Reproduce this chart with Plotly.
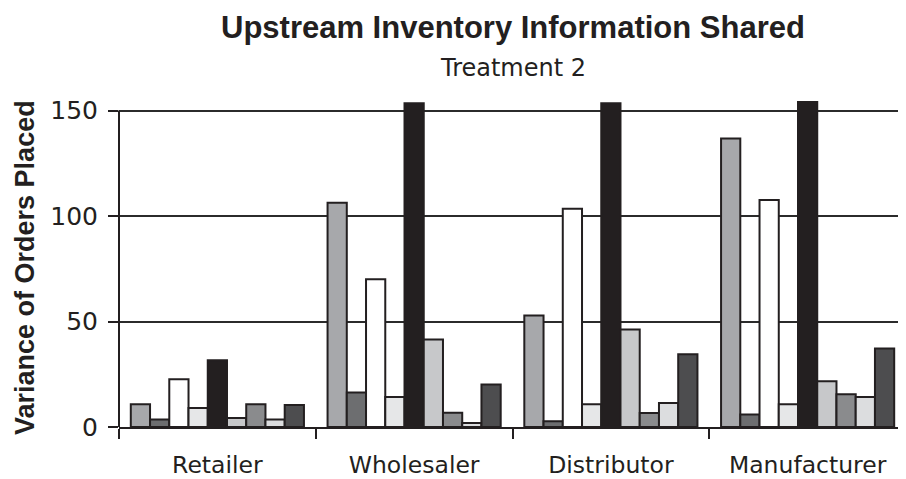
import plotly.graph_objects as go

categories = ["Retailer", "Wholesaler", "Distributor", "Manufacturer"]

# nine series per category (left to right within each group)
s1 = [10.8, 106.3, 52.9, 136.7]
s2 = [3.6, 16.3, 2.7, 5.9]
s3 = [22.6, 70.0, 103.5, 107.6]
s4 = [9.0, 14.2, 10.8, 10.8]
s5 = [31.6, 153.5, 153.5, 154.0]
s6 = [4.3, 41.5, 46.2, 21.7]
s7 = [10.8, 6.8, 6.6, 15.5]
s8 = [3.5, 1.9, 11.4, 14.2]
s9 = [10.4, 20.1, 34.5, 37.2]

series = [s1, s2, s3, s4, s5, s6, s7, s8, s9]
colors = ["#a7a8ab", "#6d6e70", "#ffffff", "#e6e7e8", "#231f20",
          "#c7c8ca", "#8a8b8d", "#dcdddf", "#4d4d4f"]

y_ticks = [0, 50, 100, 150]

# the page body adds an 8px offset, so the figure is sized to fit the window
W, H = 898, 471
L, T, B = 111, 92, 52
plot_h = H - T - B
base_y = H - B  # pixel row of y=0 inside the figure

fig = go.Figure()
for vals, col in zip(series, colors):
    fig.add_trace(go.Bar(
        x=categories, y=vals,
        marker=dict(color=col, line=dict(color="#231f20", width=2)),
        showlegend=False, hoverinfo="skip"))

fig.update_layout(
    width=W, height=H,
    margin=dict(l=L, r=0, t=T, b=B, autoexpand=False),
    paper_bgcolor="white", plot_bgcolor="white",
    barmode="group", bargap=0.12, bargroupgap=0,
    annotations=[
        dict(text="<b>Upstream Inventory Information Shared</b>", x=0.5, xref="paper",
             y=(base_y - 19) / plot_h, yref="paper", yanchor="middle", xanchor="center",
             showarrow=False,
             font=dict(family="Liberation Sans", size=31, color="#231f20")),
        dict(text="Treatment 2", x=0.5, xref="paper",
             y=(base_y - 60) / plot_h, yref="paper", yanchor="middle", xanchor="center",
             showarrow=False,
             font=dict(family="DejaVu Sans", size=24, color="#231f20")),
        dict(text="<b>Variance of Orders Placed</b>", textangle=-90,
             x=(17 - L) / (W - L), xref="paper", y=(base_y - 260) / plot_h, yref="paper",
             xanchor="center", yanchor="middle", showarrow=False,
             font=dict(family="Liberation Sans", size=27, color="#231f20")),
    ],
    xaxis=dict(
        type="category", tickson="boundaries", ticks="outside", ticklen=10,
        tickwidth=1.5, tickcolor="#231f20", automargin=False,
        showline=True, linecolor="#231f20", linewidth=2,
        showgrid=False, zeroline=False,
        tickfont=dict(family="DejaVu Sans", size=23.5, color="#231f20"),
        ticklabelstandoff=16,
        range=[-0.5, 3.5],
    ),
    yaxis=dict(
        range=[0, 155], tickvals=y_ticks, ticks="outside", ticklen=10,
        tickwidth=1.5, tickcolor="#231f20", automargin=False,
        showline=False, showgrid=True, gridcolor="#2b2b2b", gridwidth=2,
        zeroline=False,
        tickfont=dict(family="DejaVu Sans", size=25, color="#231f20"),
        ticklabelstandoff=5,
    ),
    shapes=[dict(type="line", xref="paper", x0=0, x1=0, yref="y", y0=0, y1=150,
                 line=dict(color="#231f20", width=2))],
)

fig.write_html("out.html")
